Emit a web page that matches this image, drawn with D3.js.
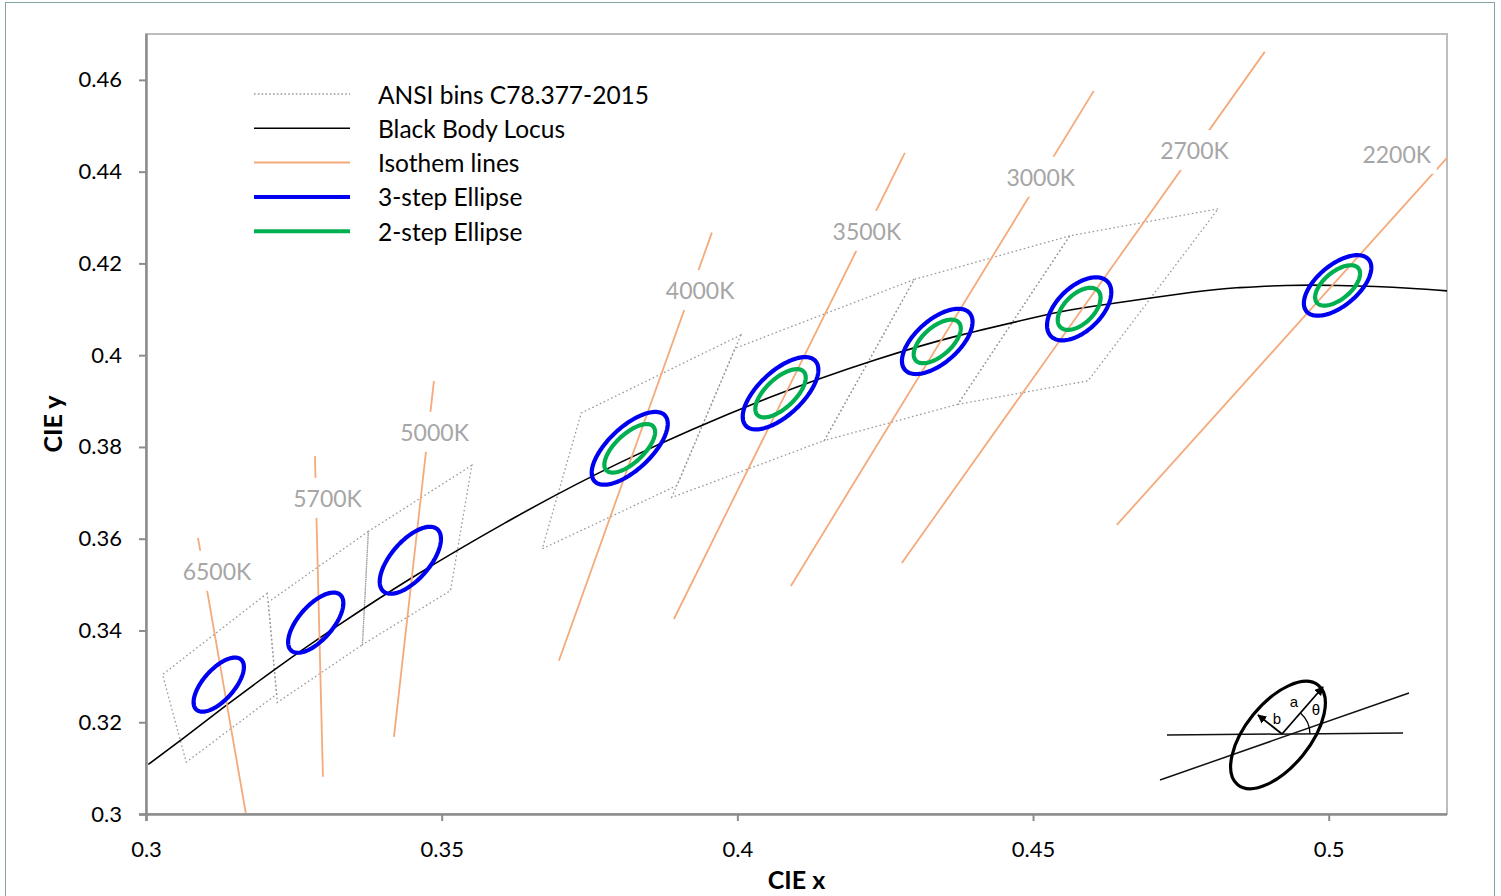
<!DOCTYPE html>
<html><head><meta charset="utf-8">
<script src="https://cdn.jsdelivr.net/npm/d3@7"></script>
<style>body{margin:0;background:#fff}svg{display:block}</style>
</head><body>
<svg id="c" width="1501" height="896"></svg>
<script>
// ---------------- data ----------------
const xTicks = [0.3, 0.35, 0.4, 0.45, 0.5];
const yTicks = [0.3, 0.32, 0.34, 0.36, 0.38, 0.4, 0.42, 0.44, 0.46];

// Black body (Planckian) locus, CIE 1931 x,y
const locusCCT = [7500, 7000, 6500, 6000, 5500, 5000, 4500, 4000, 3500, 3200, 3000, 2800, 2700, 2500, 2400, 2300, 2200, 2100, 2000];
const locusX = [0.3004, 0.3064, 0.3135, 0.3221, 0.3325, 0.3451, 0.3608, 0.3805, 0.4053, 0.4234, 0.4369, 0.4519, 0.4599, 0.4769, 0.4845, 0.4927, 0.5017, 0.5136, 0.5267];
const locusY = [0.3108, 0.3166, 0.3236, 0.3318, 0.3411, 0.3516, 0.3635, 0.3768, 0.3907, 0.3990, 0.4041, 0.4087, 0.4106, 0.4137, 0.4147, 0.4152, 0.4152, 0.4146, 0.4133];

// ANSI C78.377 quadrangles (4 corners each)
const binNames = ["6500K", "5700K", "5000K", "4000K", "3500K", "3000K", "2700K"];
const binX = [
  [0.3205, 0.3028, 0.3068, 0.3221],
  [0.3376, 0.3207, 0.3222, 0.3366],
  [0.3551, 0.3376, 0.3366, 0.3515],
  [0.4006, 0.3736, 0.3670, 0.3898],
  [0.4299, 0.3996, 0.3889, 0.4147],
  [0.4562, 0.4299, 0.4147, 0.4373],
  [0.4813, 0.4562, 0.4373, 0.4593]
];
const binY = [
  [0.3481, 0.3304, 0.3113, 0.3261],
  [0.3616, 0.3462, 0.3243, 0.3369],
  [0.3760, 0.3616, 0.3369, 0.3487],
  [0.4044, 0.3874, 0.3578, 0.3716],
  [0.4165, 0.4015, 0.3690, 0.3814],
  [0.4260, 0.4165, 0.3814, 0.3893],
  [0.4319, 0.4260, 0.3893, 0.3944]
];

// MacAdam 1-step ellipse parameters (center, a, b, theta in degrees)
const ellNames = ["6500K", "5700K", "5000K", "4000K", "3500K", "3000K", "2700K", "2200K"];
const ellCx = [0.3123, 0.3287, 0.3447, 0.3818, 0.4073, 0.4338, 0.4578, 0.5015];
const ellCy = [0.3282, 0.3417, 0.3553, 0.3797, 0.3917, 0.4030, 0.4101, 0.4152];
const ellA = [0.00223, 0.00247, 0.00274, 0.00313, 0.00309, 0.00278, 0.00258, 0.00260];
const ellB = [0.00095, 0.00105, 0.00118, 0.00134, 0.00138, 0.00136, 0.00137, 0.00130];
const ellTheta = [58.57, 59.09, 59.37, 53.72, 54.00, 53.22, 57.17, 52.0];
const threeStep = ["6500K", "5700K", "5000K", "4000K", "3500K", "3000K", "2700K", "2200K"];
const twoStep = ["4000K", "3500K", "3000K", "2700K", "2200K"];

// Isotherm lines (end points) and their labels
const isoNames = ["6500K", "5700K", "5000K", "4000K", "3500K", "3000K", "2700K", "2200K"];
const isoX1 = [0.30879, 0.32857, 0.34869, 0.39569, 0.42832, 0.46027, 0.48918, 0.5200];
const isoY1 = [0.3602, 0.3780, 0.3944, 0.4267, 0.4441, 0.4576, 0.4661, 0.4430];
const isoX2 = [0.3169, 0.32992, 0.34193, 0.36982, 0.38927, 0.40905, 0.42781, 0.46416];
const isoY2 = [0.3000, 0.3081, 0.3168, 0.3334, 0.3425, 0.3497, 0.3547, 0.3630];
const isoLabX = [0.3120, 0.3307, 0.3488, 0.3937, 0.4219, 0.4513, 0.4773, 0.5115];
const isoLabY = [0.3530, 0.3689, 0.3833, 0.4142, 0.4271, 0.4389, 0.4447, 0.4439];

const legendLabels = ["ANSI bins C78.377-2015", "Black Body Locus", "Isothem lines", "3-step Ellipse", "2-step Ellipse"];

// ---------------- layout ----------------
const m = {left: 146, top: 34, right: 1447, bottom: 814};
const FONT = "Lato, 'Open Sans', sans-serif";
const C = {bin: "#9a9a9a", locus: "#000", iso: "#F4AA7B", blue: "#0000F0", green: "#00B050", label: "#A6A6A6"};

const svg = d3.select("#c");
const x = d3.scaleLinear().domain([0.3, 0.52]).range([m.left, m.right]);
const y = d3.scaleLinear().domain([0.3, 0.47]).range([m.bottom, m.top]);

// outer frame
svg.append("rect").attr("x", 5.5).attr("y", 2.5).attr("width", 1489).attr("height", 905)
  .attr("fill", "#fff").attr("stroke", "#86a3a3").attr("stroke-width", 1);

const defs = svg.append("defs");
defs.append("clipPath").attr("id", "plotclip").append("rect")
  .attr("x", m.left).attr("y", m.top).attr("width", m.right - m.left).attr("height", m.bottom - m.top);

// plot border
svg.append("rect").attr("x", m.left).attr("y", m.top).attr("width", m.right - m.left).attr("height", m.bottom - m.top)
  .attr("fill", "none").attr("stroke", "#BDBDBD").attr("stroke-width", 2);

const plot = svg.append("g").attr("clip-path", "url(#plotclip)");

// ANSI bins
binNames.forEach((n, i) => {
  const pts = binX[i].map((vx, j) => [x(vx), y(binY[i][j])]);
  plot.append("path").attr("d", d3.line().curve(d3.curveLinearClosed)(pts))
    .attr("fill", "none").attr("stroke", C.bin).attr("stroke-width", 1.3)
    .attr("stroke-dasharray", "1.6,2.6");
});

// Black body locus
const locusPts = locusX.map((vx, i) => [x(vx), y(locusY[i])]);
plot.append("path").attr("d", d3.line().curve(d3.curveNatural)(locusPts))
  .attr("fill", "none").attr("stroke", C.locus).attr("stroke-width", 1.6);

// Isotherm lines
isoNames.forEach((n, i) => {
  plot.append("line").attr("x1", x(isoX1[i])).attr("y1", y(isoY1[i]))
    .attr("x2", x(isoX2[i])).attr("y2", y(isoY2[i]))
    .attr("stroke", C.iso).attr("stroke-width", 1.8);
});

// Isotherm labels with white boxes
const labG = svg.append("g");
isoNames.forEach((n, i) => {
  const g = labG.append("g");
  const t = g.append("text").attr("x", x(isoLabX[i])).attr("y", y(isoLabY[i]))
    .attr("text-anchor", "middle").attr("dominant-baseline", "central")
    .attr("font-family", FONT).attr("font-size", 23).attr("fill", C.label).text(n);
  const bb = t.node().getBBox();
  g.insert("rect", "text").attr("x", bb.x - 5).attr("y", y(isoLabY[i]) - 20)
    .attr("width", bb.width + 10).attr("height", 40).attr("fill", "#fff");
});

// Ellipses
function ellipsePath(i, k) {
  const th = ellTheta[i] * Math.PI / 180, a = ellA[i] * k, b = ellB[i] * k;
  const pts = d3.range(0, 144).map(j => {
    const t = j / 144 * 2 * Math.PI;
    const ex = ellCx[i] + a * Math.cos(th) * Math.cos(t) - b * Math.sin(th) * Math.sin(t);
    const ey = ellCy[i] + a * Math.sin(th) * Math.cos(t) + b * Math.cos(th) * Math.sin(t);
    return [x(ex), y(ey)];
  });
  return d3.line().curve(d3.curveLinearClosed)(pts);
}
threeStep.forEach(n => {
  const i = ellNames.indexOf(n);
  svg.append("path").attr("d", ellipsePath(i, 3)).attr("fill", "none")
    .attr("stroke", C.blue).attr("stroke-width", 4.2);
});
twoStep.forEach(n => {
  const i = ellNames.indexOf(n);
  svg.append("path").attr("d", ellipsePath(i, 2)).attr("fill", "none")
    .attr("stroke", C.green).attr("stroke-width", 4.2);
});

// Axes
const fmt = d => String(+d.toFixed(2));
const gx = svg.append("g").attr("transform", `translate(0,${m.bottom})`)
  .call(d3.axisBottom(x).tickValues(xTicks).tickFormat(fmt).tickSize(7).tickSizeOuter(0).tickPadding(20));
const gy = svg.append("g").attr("transform", `translate(${m.left},0)`)
  .call(d3.axisLeft(y).tickValues(yTicks).tickFormat(fmt).tickSize(7).tickSizeOuter(0).tickPadding(17));
[gx, gy].forEach(g => {
  g.select(".domain").attr("stroke", "#8C8C8C").attr("stroke-width", 2.5);
  g.selectAll(".tick line").attr("stroke", "#8C8C8C").attr("stroke-width", 2);
  g.selectAll(".tick text").attr("font-family", FONT).attr("font-size", 22).attr("fill", "#000");
});
gx.select(".domain").attr("d", `M${m.left - 7},0.5H${m.right}`);
gy.select(".domain").attr("d", `M0.5,${m.top}V${m.bottom + 7}`);

// axis titles
svg.append("text").attr("x", (m.left + m.right) / 2).attr("y", 879).attr("text-anchor", "middle")
  .attr("dominant-baseline", "central").attr("font-family", FONT).attr("font-weight", "bold")
  .attr("font-size", 25).text("CIE x");
svg.append("text").attr("transform", `translate(52,${(m.top + m.bottom) / 2}) rotate(-90)`)
  .attr("text-anchor", "middle").attr("dominant-baseline", "central").attr("font-family", FONT)
  .attr("font-weight", "bold").attr("font-size", 25).text("CIE y");

// Legend
const legStyles = [
  {stroke: C.bin, w: 1.3, dash: "1.6,2.2"},
  {stroke: C.locus, w: 1.6, dash: null},
  {stroke: C.iso, w: 2, dash: null},
  {stroke: C.blue, w: 4, dash: null},
  {stroke: C.green, w: 4, dash: null}
];
const leg = svg.append("g").attr("transform", "translate(254,94)");
legendLabels.forEach((l, i) => {
  const yy = i * 34.3;
  const ln = leg.append("line").attr("x1", 0).attr("x2", 96).attr("y1", yy).attr("y2", yy)
    .attr("stroke", legStyles[i].stroke).attr("stroke-width", legStyles[i].w);
  if (legStyles[i].dash) ln.attr("stroke-dasharray", legStyles[i].dash);
  leg.append("text").attr("x", 124).attr("y", yy).attr("dominant-baseline", "central")
    .attr("font-family", FONT).attr("font-size", 24.5).attr("fill", "#000").text(l);
});

// Inset illustration (ellipse parameter sketch)
const ins = svg.append("g").attr("transform", `translate(${m.left + 1136},${m.top + 700})`);
defs.append("marker").attr("id", "arr").attr("viewBox", "0 0 10 10").attr("refX", 9).attr("refY", 5)
  .attr("markerWidth", 5).attr("markerHeight", 5).attr("orient", "auto")
  .append("path").attr("d", "M0,0L10,5L0,10z").attr("fill", "#000");
ins.append("line").attr("x1", -115).attr("y1", 1).attr("x2", 121).attr("y2", -1).attr("stroke", "#111").attr("stroke-width", 1.5);
ins.append("line").attr("x1", -122).attr("y1", 46).attr("x2", 127).attr("y2", -41).attr("stroke", "#111").attr("stroke-width", 1.5);
ins.append("ellipse").attr("cx", 0).attr("cy", 0).attr("rx", 64).attr("ry", 32)
  .attr("transform", "translate(-4,1) rotate(-51)").attr("fill", "none").attr("stroke", "#000").attr("stroke-width", 3.2);
ins.append("line").attr("x1", 0).attr("y1", 0).attr("x2", 41).attr("y2", -47).attr("stroke", "#000").attr("stroke-width", 1.8).attr("marker-end", "url(#arr)");
ins.append("line").attr("x1", 0).attr("y1", 0).attr("x2", -24).attr("y2", -19).attr("stroke", "#000").attr("stroke-width", 1.8).attr("marker-end", "url(#arr)");
ins.append("path").attr("d", d3.arc()({innerRadius: 28, outerRadius: 28, startAngle: Math.PI / 2 - 0.84, endAngle: Math.PI / 2}))
  .attr("fill", "none").attr("stroke", "#000").attr("stroke-width", 1.3);
[["a", 12, -33], ["b", -5, -16], ["θ", 34, -25]].forEach(([s, tx, ty]) => {
  ins.append("text").attr("x", tx).attr("y", ty).attr("text-anchor", "middle").attr("dominant-baseline", "central")
    .attr("font-family", "'Liberation Sans', Arial, sans-serif").attr("font-size", 15).text(s);
});
</script>
</body></html>
